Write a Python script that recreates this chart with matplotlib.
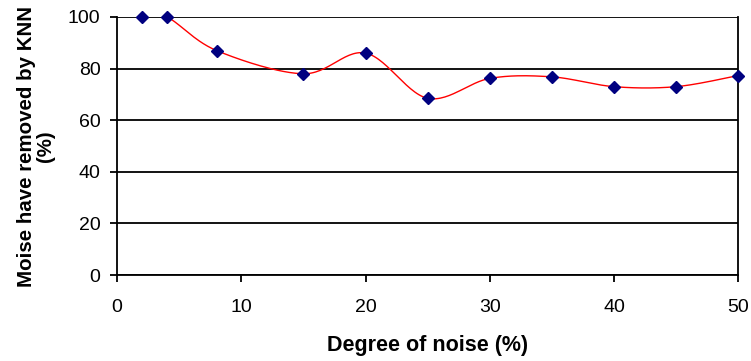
import numpy as np
import matplotlib
matplotlib.use("Agg")
import matplotlib.pyplot as plt

noise = [2, 4, 8, 15, 20, 25, 30, 35, 40, 45, 50]
removed = [100, 100, 87, 78, 86, 68.5, 76.2, 76.8, 73, 73, 77.3]
xticks = [0, 10, 20, 30, 40, 50]
yticks = [0, 20, 40, 60, 80, 100]

plt.rcParams['font.family'] = ['Liberation Sans', 'DejaVu Sans']

def smooth(xs, ys, n=30):
    P = np.column_stack([xs, ys]).astype(float)
    ext = np.vstack([P[0], P, P[-1]])
    out = []
    t = np.linspace(0, 1, n)[:, None]
    for i in range(len(P) - 1):
        p0, p3 = ext[i + 1], ext[i + 2]
        c1 = p0 + (ext[i + 2] - ext[i]) / 6
        c2 = p3 - (ext[i + 3] - ext[i + 1]) / 6
        seg = ((1 - t) ** 3) * p0 + 3 * ((1 - t) ** 2) * t * c1 + 3 * (1 - t) * t ** 2 * c2 + t ** 3 * p3
        out.append(seg if i == 0 else seg[1:])
    out = np.vstack(out)
    return out[:, 0], out[:, 1]

fig = plt.figure(figsize=(7.51, 3.61), dpi=100)
ax = fig.add_axes([0.156, 0.238, 0.827, 0.715])

sx, sy = smooth(noise, removed)
ax.plot(sx, sy, color='#ff0000', lw=1.0, zorder=3)
ax.plot(noise, removed, linestyle='none', marker='D', ms=6.5, color='#000080',
        markeredgecolor='#000080', zorder=4, clip_on=False)

ax.set_xlim(0, 50)
ax.set_ylim(0, 100)
ax.set_xticks(xticks)
ax.set_yticks(yticks)
ax.yaxis.grid(True, color='black', lw=1.3)
ax.set_axisbelow(True)
for s in ['left', 'bottom', 'right']:
    ax.spines[s].set_linewidth(1.3)
    ax.spines[s].set_color('black')
ax.spines['top'].set_visible(False)
ax.tick_params(axis='both', direction='out', length=5, width=1.3, labelsize=14)
ax.tick_params(axis='y', pad=7)
ax.tick_params(axis='x', pad=12)

ax.set_xlabel('Degree of noise (%)', fontsize=15.5, fontweight='bold', labelpad=14)
ax.set_ylabel('Moise have removed by KNN\n(%)', fontsize=14.8, fontweight='bold',
              labelpad=9, linespacing=1.0)

fig.savefig('out.png', dpi=100)
